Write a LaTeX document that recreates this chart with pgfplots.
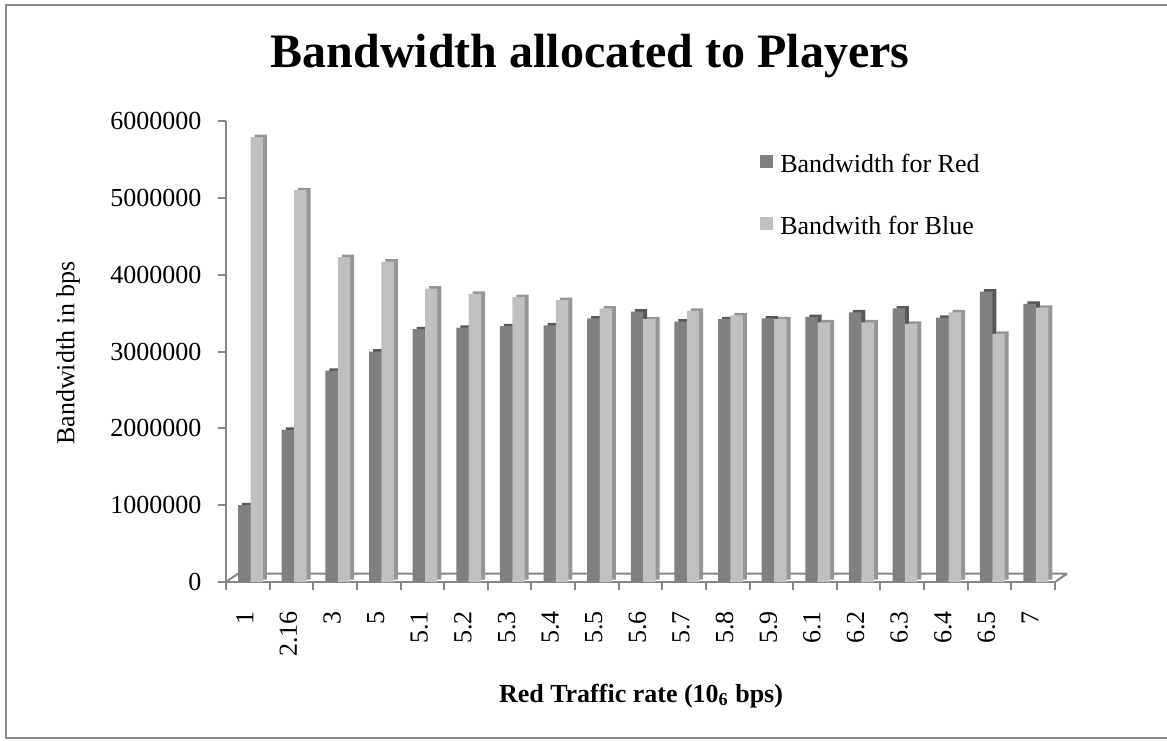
\documentclass[border=0pt]{standalone}
\usepackage{pgfplots}
\usepackage{pgfplotstable}
\pgfplotsset{compat=1.18}
\usepackage{fontspec}
\setmainfont{Liberation Serif}

\definecolor{redfront}{HTML}{808080}
\definecolor{redside}{HTML}{585858}
\definecolor{bluefront}{HTML}{C0C0C0}
\definecolor{blueside}{HTML}{969696}
\definecolor{axisgray}{HTML}{868686}
\definecolor{framegray}{HTML}{8C8C8C}

% bandwidth (bps) given to each player for every red traffic rate
\pgfplotstableread{
idx red     blue
0   1000000 5790000
1   1980000 5100000
2   2750000 4230000
3   3000000 4170000
4   3290000 3820000
5   3310000 3750000
6   3330000 3710000
7   3340000 3670000
8   3430000 3560000
9   3520000 3420000
10  3390000 3530000
11  3420000 3470000
12  3430000 3420000
13  3450000 3380000
14  3510000 3380000
15  3560000 3360000
16  3440000 3510000
17  3780000 3230000
18  3620000 3570000
}\bwdata

\newcommand{\lblfont}{\fontsize{13}{15.6}\selectfont}

\begin{document}
\begin{tikzpicture}
\path[use as bounding box] (0pt,0pt) rectangle (583.5pt,370pt);
\draw[framegray, line width=0.8pt] (583.5pt,367.5pt) -- (3pt,367.5pt) -- (3pt,1pt) -- (583.5pt,1pt);

\node[font=\fontsize{24}{28}\selectfont\bfseries, anchor=base] at (295pt,336pt) {Bandwidth allocated to Players};
\node[font=\lblfont, rotate=90] at (34pt,193.5pt) {Bandwidth in bps};
\node[font=\lblfont\bfseries, anchor=base] at (320.5pt,19pt) {Red Traffic rate (10\textsubscript{6} bps)};

\begin{axis}[
  at={(113pt,79pt)}, anchor=south west,
  width=414.5pt, height=230.5pt, scale only axis,
  xmin=-0.5, xmax=18.5, ymin=0, ymax=6000000,
  clip=false,
  axis x line*=bottom, axis y line*=left,
  axis line style={-, draw=axisgray, line width=1pt},
  tick style={draw=axisgray, line width=1pt},
  tick align=outside,
  major tick length=4pt,
  xtick={-0.5,0.5,...,18.5},
  xticklabels={},
  extra x ticks={0,...,18},
  extra x tick labels={1,2.16,3,5,5.1,5.2,5.3,5.4,5.5,5.6,5.7,5.8,5.9,6.1,6.2,6.3,6.4,6.5,7},
  extra x tick style={major tick length=0pt,
    xticklabel style={rotate=90, anchor=east, xshift=-11pt, yshift=1.5pt}},
  ytick={0,1000000,...,6000000},
  scaled y ticks=false,
  yticklabel style={/pgf/number format/.cd, fixed, 1000 sep={}, assume math mode=true,
    /tikz/.cd, xshift=-4.75pt},
  ticklabel style={font=\lblfont},
  legend style={at={(0.644,0.929)}, anchor=north west, draw=none, fill=none,
    font=\lblfont, inner sep=0pt, row sep=22pt, column sep=3.5pt,
    nodes={inner sep=0pt, text height=9pt, text depth=0pt}},
  legend cell align=left,
  legend image code/.code={\fill[#1] (0pt,-2.2pt) rectangle (6.5pt,4pt);},
]
% floor of the plot, seen in depth
\draw[axisgray, line width=1pt]
  (axis cs:-0.5,0) -- ++(6pt,4.2pt) coordinate (bl)
  (axis cs:18.5,0) -- ++(6pt,4.2pt) coordinate (br)
  (bl) -- (br);

\addplot[ybar, bar width=6.2pt, bar shift=-1.75pt, fill=redside, draw=none,
  xshift=2pt, yshift=1.2pt, forget plot] table[x=idx,y=red]{\bwdata};
\addplot[ybar, bar width=6.2pt, bar shift=-1.75pt, fill=redfront, draw=none]
  table[x=idx,y=red]{\bwdata};
\addplot[ybar, bar width=6.2pt, bar shift=4.45pt, fill=blueside, draw=none,
  xshift=2pt, yshift=1.2pt, forget plot] table[x=idx,y=blue]{\bwdata};
\addplot[ybar, bar width=6.2pt, bar shift=4.45pt, fill=bluefront, draw=none]
  table[x=idx,y=blue]{\bwdata};
\legend{Bandwidth for Red, Bandwith for Blue}
\end{axis}
\end{tikzpicture}
\end{document}
